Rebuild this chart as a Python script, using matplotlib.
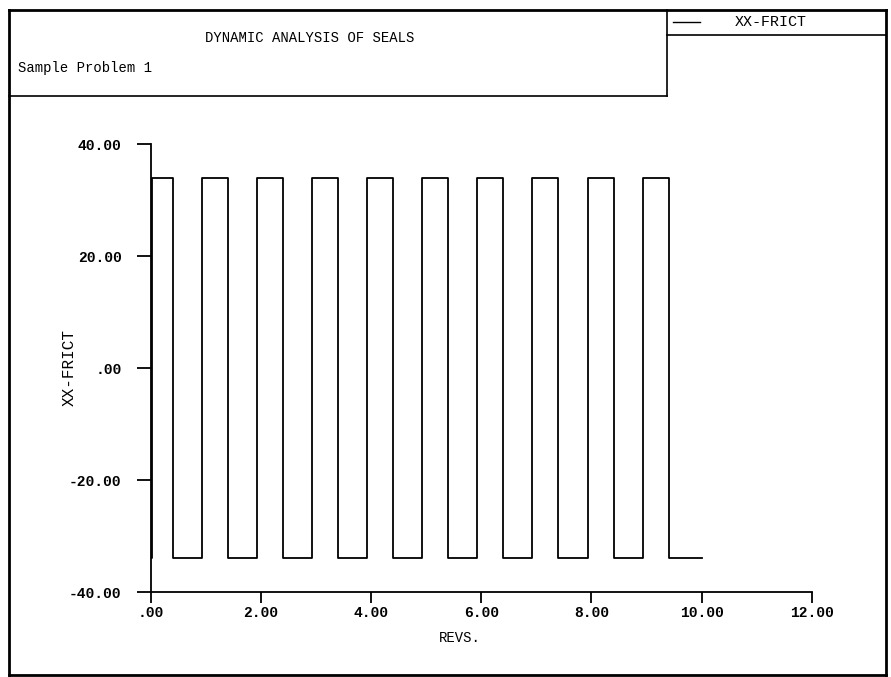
import numpy as np
import matplotlib
matplotlib.use("Agg")
import matplotlib.pyplot as plt
from matplotlib.lines import Line2D

# square-wave friction force vs revolutions
rise_revs = [0.03, 0.93, 1.93, 2.93, 3.93, 4.93, 5.92, 6.93, 7.93, 8.93]
fall_revs = [0.41, 1.41, 2.41, 3.40, 4.39, 5.39, 6.39, 7.39, 8.41, 9.41]
start_rev = 0.0
end_rev = 10.0
f_high = 34.0
f_low = -34.0

xticks = [0, 2, 4, 6, 8, 10, 12]
xtick_labels = [".00", "2.00", "4.00", "6.00", "8.00", "10.00", "12.00"]
yticks = [-40, -20, 0, 20, 40]
ytick_labels = ["-40.00", "-20.00", ".00", "20.00", "40.00"]

# build the step path
revs = [start_rev]
frict = [f_low]
for r, f in zip(rise_revs, fall_revs):
    revs += [r, r, f, f]
    frict += [f_low, f_high, f_high, f_low]
revs.append(end_rev)
frict.append(f_low)

W, H = 891, 677
plt.rcParams['font.family'] = ['Liberation Mono', 'DejaVu Sans']
fig = plt.figure(figsize=(W / 100, H / 100), dpi=100)

def px(x, y):
    return x / W, 1 - y / H

def fline(x0, y0, x1, y1, lw=1.5):
    a = px(x0, y0)
    b = px(x1, y1)
    fig.add_artist(Line2D([a[0], b[0]], [a[1], b[1]], color="black", lw=lw,
                          transform=fig.transFigure))

# page frame, title box and legend box
fline(9, 10, 886, 10, 2)
fline(9, 10, 9, 675, 2)
fline(9, 675, 886, 675, 2)
fline(886, 10, 886, 675, 2)
fline(667, 10, 667, 96, 1.2)
fline(9, 96, 667, 96, 1.2)
fline(667, 35, 886, 35, 1.2)
fline(673, 22, 700, 22, 1.0)

fig.text(*px(310, 38), "DYNAMIC ANALYSIS OF SEALS", ha="center", va="center", fontsize=10)
fig.text(*px(18, 68), "Sample Problem 1", ha="left", va="center", fontsize=10)
fig.text(*px(735, 22), "XX-FRICT", ha="left", va="center", fontsize=10.8)

ax = fig.add_axes([150.7 / W, 1 - 592 / H, 661 / W, 448 / H])
ax.plot(revs, frict, color="black", lw=1.3)
ax.set_xlim(0, 12)
ax.set_ylim(-40, 40)
for s in ["top", "right"]:
    ax.spines[s].set_visible(False)
for s in ["left", "bottom"]:
    ax.spines[s].set_linewidth(1.3)
ax.set_xticks(xticks)
ax.set_xticklabels(xtick_labels, fontsize=10.5, fontweight="bold")
ax.set_yticks(yticks)
ax.set_yticklabels(ytick_labels, fontsize=10.5, fontweight="bold")
ax.tick_params(axis="x", direction="out", length=8, width=1.3, pad=2)
ax.tick_params(axis="y", direction="out", length=10, width=1.3, pad=11)
ax.set_xlabel("REVS.", fontsize=10)
ax.xaxis.set_label_coords(0.468, -0.088)
ax.set_ylabel("XX-FRICT", fontsize=11.5)
ax.yaxis.set_label_coords(-0.112, 0.5)

fig.savefig("out.png", dpi=100)
